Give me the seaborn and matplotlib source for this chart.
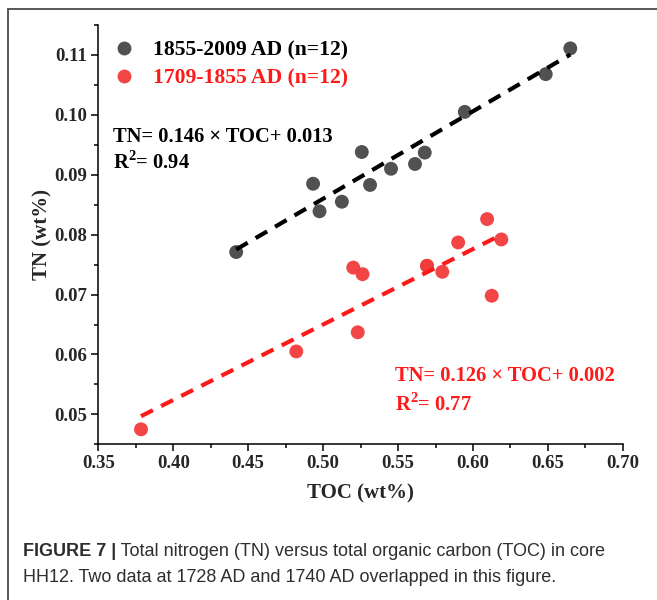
import matplotlib
matplotlib.use("Agg")
import matplotlib.pyplot as plt
from matplotlib.ticker import MultipleLocator, FormatStrFormatter
from matplotlib.patches import Rectangle
import seaborn as sns
import pandas as pd
import numpy as np

# Period labels
period_recent = "1855-2009 AD (n=12)"
period_early = "1709-1855 AD (n=12)"

# 1855-2009 AD samples
toc_recent = [0.442, 0.4933, 0.4976, 0.5125, 0.5258, 0.5313,
              0.5453, 0.5613, 0.5678, 0.5945, 0.6485, 0.6649]
tn_recent = [0.0771, 0.0885, 0.0839, 0.0855, 0.0938, 0.0883,
             0.0910, 0.0918, 0.0937, 0.1005, 0.1068, 0.1111]

# 1709-1855 AD samples (two samples coincide)
toc_early = [0.3785, 0.4821, 0.5201, 0.5231, 0.5263, 0.5693,
             0.5693, 0.5795, 0.5901, 0.6094, 0.6125, 0.6189]
tn_early = [0.0475, 0.0605, 0.0745, 0.0637, 0.0734, 0.0748,
            0.0748, 0.0738, 0.0787, 0.0826, 0.0698, 0.0792]

# Linear fits: slope, intercept, R²
fit_recent = (0.146, 0.013, "0.94")
fit_early = (0.126, 0.002, "0.77")

x_ticks = [0.35, 0.40, 0.45, 0.50, 0.55, 0.60, 0.65, 0.70]
y_ticks = [0.05, 0.06, 0.07, 0.08, 0.09, 0.10, 0.11]

caption_head = "FIGURE 7 |"
caption_line1 = " Total nitrogen (TN) versus total organic carbon (TOC) in core"
caption_line2 = "HH12. Two data at 1728 AD and 1740 AD overlapped in this figure."

col_recent = "#474747"
col_early = "#f23c3c"
red_text = "#ff1a1a"

df = pd.DataFrame({
    "TOC": toc_recent + toc_early,
    "TN": tn_recent + tn_early,
    "Period": [period_recent] * len(toc_recent) + [period_early] * len(toc_early),
})

sns.set_style("white")
serif = ["Liberation Serif", "DejaVu Serif"]
plt.rcParams["font.family"] = serif
plt.rcParams["mathtext.fontset"] = "custom"
plt.rcParams["mathtext.rm"] = "Liberation Serif"
plt.rcParams["mathtext.bf"] = "Liberation Serif:bold"

fig = plt.figure(figsize=(6.57, 6.0), dpi=100)
ax = fig.add_axes([0.1496, 0.2595, 0.7985, 0.6988])

sns.scatterplot(data=df, x="TOC", y="TN", hue="Period",
                palette={period_recent: col_recent, period_early: col_early},
                s=100, linewidth=0, alpha=0.95, ax=ax, zorder=3)

# dashed fit lines from the stated equations
for xs, (m, b, _), c in [(toc_recent, fit_recent, "black"), (toc_early, fit_early, red_text)]:
    xl = np.array([min(xs), max(xs)])
    ax.plot(xl, m * xl + b, ls=(0, (3.2, 2.2)), lw=3.0, color=c, zorder=4)

ax.set_xlim(0.35, 0.70)
ax.set_ylim(0.045, 0.115)
ax.set_xticks(x_ticks)
ax.set_yticks(y_ticks)
ax.xaxis.set_major_formatter(FormatStrFormatter("%.2f"))
ax.yaxis.set_major_formatter(FormatStrFormatter("%.2f"))
ax.xaxis.set_minor_locator(MultipleLocator(0.025))
ax.yaxis.set_minor_locator(MultipleLocator(0.005))
ax.tick_params(which="major", direction="out", length=5, width=1.1, color="black",
               labelsize=13.5, pad=3, bottom=True, left=True)
ax.tick_params(which="minor", direction="out", length=2.8, width=1.1, color="black",
               bottom=True, left=True)
for lab in ax.get_xticklabels() + ax.get_yticklabels():
    lab.set_fontweight("bold")
for s in ["top", "right"]:
    ax.spines[s].set_visible(False)
for s in ["left", "bottom"]:
    ax.spines[s].set_color("black")
    ax.spines[s].set_linewidth(1.1)

ax.set_xlabel("TOC (wt%)", fontsize=15, fontweight="bold", labelpad=8)
ax.set_ylabel("TN (wt%)", fontsize=15, fontweight="bold", labelpad=1)

leg = ax.legend(loc="upper left", bbox_to_anchor=(-0.005, 1.0), frameon=False,
                prop={"family": serif, "weight": "bold", "size": 15.6},
                handletextpad=0.75, labelspacing=0.35, borderaxespad=0.3,
                markerscale=1.0, handlelength=1.2)
for txt, c in zip(leg.get_texts(), ["black", red_text]):
    txt.set_color(c)

m, b, r2 = fit_recent
ax.text(0.028, 0.733, f"TN= {m:.3f} × TOC+ {b:.3f}", transform=ax.transAxes,
        fontsize=14.8, fontweight="bold", color="black", va="center")
ax.text(0.028, 0.671, r"R$^{\mathbf{2}}$= " + r2, transform=ax.transAxes,
        fontsize=14.8, fontweight="bold", color="black", va="center")
m, b, r2 = fit_early
ax.text(0.5655, 0.163, f"TN= {m:.3f} × TOC+ {b:.3f}", transform=ax.transAxes,
        fontsize=14.8, fontweight="bold", color=red_text, va="center")
ax.text(0.5655, 0.096, r"R$^{\mathbf{2}}$= " + r2, transform=ax.transAxes,
        fontsize=14.8, fontweight="bold", color=red_text, va="center")

# caption
cap_font = ["Liberation Sans Narrow", "Liberation Sans", "DejaVu Sans"]
fig.canvas.draw()
r = fig.canvas.get_renderer()
t0 = fig.text(23 / 657, 1 - 552 / 600, caption_head, fontsize=13, fontweight="bold",
              family=cap_font, color="#2e2e2e", va="center")
bb = t0.get_window_extent(renderer=r)
fig.text(bb.x1 / fig.bbox.width, 1 - 552 / 600, caption_line1, fontsize=13,
         family=cap_font, color="#2e2e2e", va="center")
fig.text(23 / 657, 1 - 577 / 600, caption_line2, fontsize=13,
         family=cap_font, color="#2e2e2e", va="center")

# outer frame
fig.patches.append(Rectangle((8 / 657, -0.05), 1.2, 1 - 9 / 600 + 0.05,
                             transform=fig.transFigure, fill=False,
                             edgecolor="#4a4a4a", lw=1.3))

fig.savefig("out.png", dpi=100)
